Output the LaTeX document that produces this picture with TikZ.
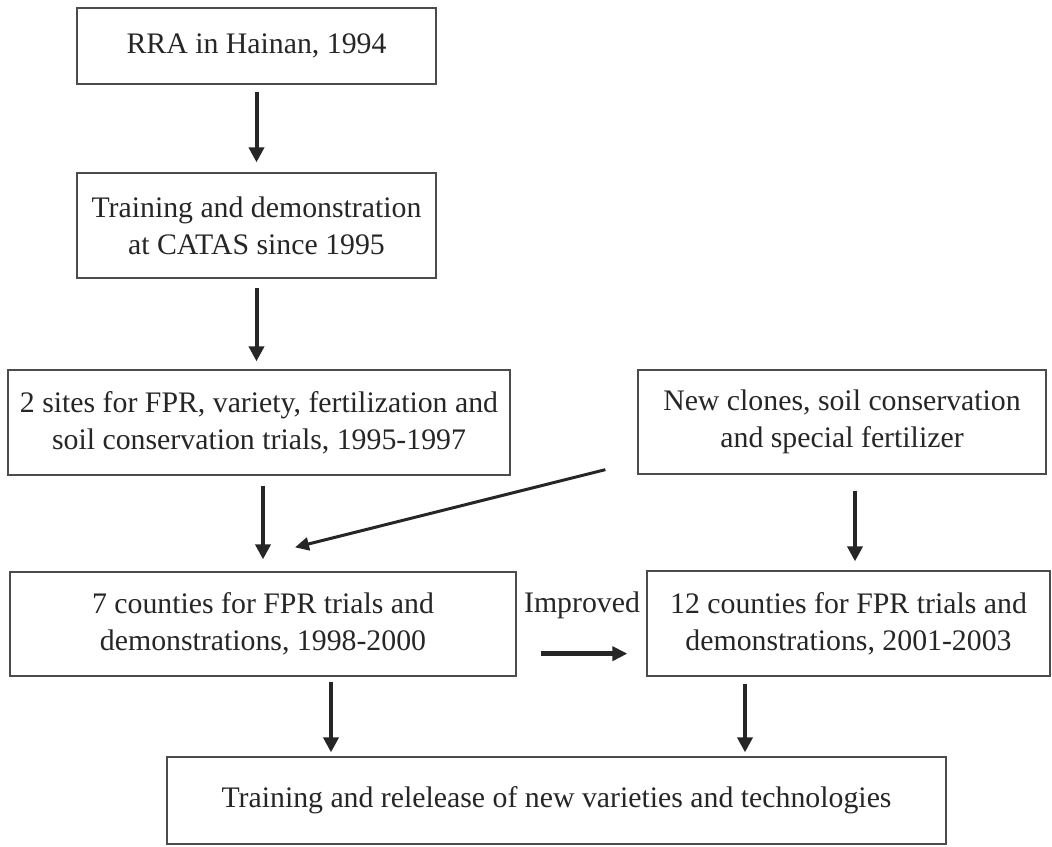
\documentclass[tikz,border=0pt]{standalone}
\usepackage{fontspec}
\setmainfont{Liberation Serif}
\usetikzlibrary{arrows.meta,calc}
\begin{document}
\begin{tikzpicture}[x=1pt,y=-1pt,
  box/.style={draw=black!70,line width=1.3pt,inner sep=0pt,align=center,
    text=black!85,font=\fontsize{29.8}{37}\selectfont},
  arr/.style={draw=black!85,line width=4pt,-{Triangle[width=15pt,length=15pt]}},
]
\useasboundingbox (0,0) rectangle (1052,846);

% boxes
\node[box,minimum width=359pt,minimum height=76pt] (b1) at (256.5,46) {RRA in Hainan, 1994};
\node[box,minimum width=359pt,minimum height=105pt] (b2) at (256.5,225.5) {Training and demonstration\\at CATAS since 1995};
\node[box,minimum width=502pt,minimum height=105pt] (b3) at (259,422.5) {2 sites for FPR, variety, fertilization and\\soil conservation trials, 1995-1997};
\node[box,minimum width=408pt,minimum height=104pt] (b4) at (842,422) {New clones, soil conservation\\and special fertilizer};
\node[box,minimum width=506pt,minimum height=104pt] (b5) at (263,624) {7 counties for FPR trials and\\demonstrations, 1998-2000};
\node[box,minimum width=403pt,minimum height=105pt] (b6) at (848.5,623.5) {12 counties for FPR trials and\\demonstrations, 2001-2003};
\node[box,minimum width=779pt,minimum height=87pt] (b7) at (556.5,800.5) {Training and relelease of new varieties and technologies};
\node[text=black!85,font=\fontsize{29.8}{37}\selectfont,inner sep=0pt,anchor=base] (imp) at (582,612) {Improved};

% vertical flow
\draw[arr,shorten <=7pt,shorten >=10pt] (b1.south) -- (b1.south |- b2.north);
\draw[arr,shorten <=9pt,shorten >=8pt] (b2.south) -- (b2.south |- b3.north);
\draw[arr,shorten <=10pt,shorten >=12pt] (b3.south -| b5.north) -- (b5.north);
\coordinate (r4) at ($(b4.south)+(13,0)$);
\draw[arr,shorten <=16pt,shorten >=9pt] (r4) -- (r4 |- b6.north);
\coordinate (l5) at ($(b5.south)+(68,0)$);
\draw[arr,shorten <=5pt,shorten >=4pt] (l5) -- (l5 |- b7.north);
\coordinate (l6) at ($(b6.south)+(-103.5,0)$);
\draw[arr,shorten <=7pt,shorten >=4pt] (l6) -- (l6 |- b7.north);

% new inputs into the county trials
\coordinate (d0) at ($(b4.south west)+(-32,-5)$);
\coordinate (d1) at ($(b5.north)+(32,-24)$);
\draw[arr,line width=3pt,-{Triangle[width=13pt,length=14pt]}] (d0) -- (d1);

% improvement step
\coordinate (h0) at ($(b5.south east)+(24,-23)$);
\draw[arr,line width=5pt,-{Triangle[width=14pt,length=15pt]},shorten >=19pt] (h0) -- (h0 -| b6.west);
\end{tikzpicture}
\end{document}
